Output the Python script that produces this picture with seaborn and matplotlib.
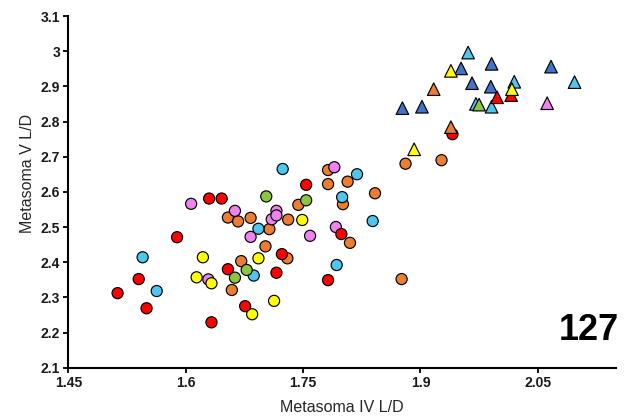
import matplotlib
matplotlib.use("Agg")
import matplotlib.pyplot as plt
import pandas as pd
import seaborn as sns

# Metasoma IV and V length/depth ratios, grouped by colour group and marker shape
red_circle_x = [1.754, 1.630, 1.646, 1.799, 1.589, 1.723, 1.654, 1.716, 1.782, 1.676, 1.633, 1.540, 1.513, 1.550, 1.941]
red_circle_y = [2.620, 2.581, 2.581, 2.480, 2.471, 2.423, 2.380, 2.370, 2.349, 2.275, 2.229, 2.352, 2.312, 2.269, 2.764]

orange_circle_x = [1.782, 1.881, 1.782, 1.807, 1.842, 1.744, 1.801, 1.654, 1.667, 1.683, 1.731, 1.707, 1.810, 1.702, 1.671, 1.730, 1.659, 1.876, 1.927]
orange_circle_y = [2.662, 2.680, 2.622, 2.629, 2.596, 2.563, 2.565, 2.527, 2.516, 2.526, 2.521, 2.494, 2.455, 2.445, 2.403, 2.411, 2.321, 2.352, 2.690]

yellow_circle_x = [1.749, 1.622, 1.693, 1.614, 1.633, 1.713, 1.685]
yellow_circle_y = [2.520, 2.414, 2.411, 2.357, 2.340, 2.290, 2.252]

green_circle_x = [1.703, 1.754, 1.678, 1.663]
green_circle_y = [2.587, 2.576, 2.378, 2.356]

cyan_circle_x = [1.724, 1.819, 1.800, 1.839, 1.693, 1.793, 1.687, 1.545, 1.563]
cyan_circle_y = [2.665, 2.650, 2.585, 2.517, 2.495, 2.392, 2.362, 2.414, 2.318]

pink_circle_x = [1.790, 1.607, 1.663, 1.716, 1.710, 1.716, 1.683, 1.759, 1.792, 1.629]
pink_circle_y = [2.670, 2.566, 2.546, 2.546, 2.522, 2.533, 2.472, 2.475, 2.500, 2.351]

cyan_tri_x = [1.961, 2.020, 2.097, 1.971, 1.991]
cyan_tri_y = [2.996, 2.913, 2.912, 2.850, 2.842]

blue_tri_x = [1.952, 1.991, 2.067, 1.966, 1.990, 1.877, 1.902]
blue_tri_y = [2.951, 2.964, 2.956, 2.909, 2.899, 2.838, 2.842]

green_tri_x = [1.975]
green_tri_y = [2.848]

pink_tri_x = [2.062]
pink_tri_y = [2.852]

orange_tri_x = [1.917, 1.939]
orange_tri_y = [2.892, 2.784]

yellow_tri_x = [1.939, 2.017, 1.892]
yellow_tri_y = [2.944, 2.892, 2.721]

red_tri_x = [1.998, 2.016]
red_tri_y = [2.869, 2.875]

x_ticks = [1.45, 1.6, 1.75, 1.9, 2.05]
x_tick_labels = ["1.45", "1.6", "1.75", "1.9", "2.05"]
y_ticks = [2.1, 2.2, 2.3, 2.4, 2.5, 2.6, 2.7, 2.8, 2.9, 3.0, 3.1]
y_tick_labels = ["2.1", "2.2", "2.3", "2.4", "2.5", "2.6", "2.7", "2.8", "2.9", "3", "3.1"]

palette = {
    "red": "#FF0000",
    "orange": "#ED7D31",
    "yellow": "#FFFF00",
    "green": "#8CC63F",
    "cyan": "#4FC6EE",
    "pink": "#EE82EE",
    "blue": "#4472C4",
}

# drawing order: circles first, then triangles
groups = [
    ("orange", "circle", orange_circle_x, orange_circle_y),
    ("cyan", "circle", cyan_circle_x, cyan_circle_y),
    ("green", "circle", green_circle_x, green_circle_y),
    ("pink", "circle", pink_circle_x, pink_circle_y),
    ("yellow", "circle", yellow_circle_x, yellow_circle_y),
    ("red", "circle", red_circle_x, red_circle_y),
    ("cyan", "triangle", cyan_tri_x, cyan_tri_y),
    ("blue", "triangle", blue_tri_x, blue_tri_y),
    ("green", "triangle", green_tri_x, green_tri_y),
    ("pink", "triangle", pink_tri_x, pink_tri_y),
    ("red", "triangle", red_tri_x, red_tri_y),
    ("orange", "triangle", orange_tri_x, orange_tri_y),
    ("yellow", "triangle", yellow_tri_x, yellow_tri_y),
]

rows = []
for colour, shape, xs, ys in groups:
    for xv, yv in zip(xs, ys):
        rows.append({"iv": xv, "v": yv, "group": colour, "shape": shape})
df = pd.DataFrame(rows)

sns.set_theme(style="white")
plt.rcParams["font.family"] = ["Liberation Sans", "DejaVu Sans"]

fig = plt.figure(figsize=(6.42, 4.17), dpi=100)
ax = fig.add_axes([68.3 / 642, 1 - 367.7 / 417, (616 - 68.3) / 642, (367.7 - 16) / 417])

sns.scatterplot(
    data=df, x="iv", y="v", hue="group", style="shape", size="shape",
    palette=palette, markers={"circle": "o", "triangle": "^"},
    sizes={"circle": 64, "triangle": 82},
    edgecolor="black", linewidth=0.85, legend=False, ax=ax,
)

ax.set_xlim(1.45, 2.15)
ax.set_ylim(2.1, 3.1)
ax.set_xticks(x_ticks)
ax.set_xticklabels(x_tick_labels)
ax.set_yticks(y_ticks)
ax.set_yticklabels(y_tick_labels)

for side in ("top", "right"):
    ax.spines[side].set_visible(False)
for side in ("left", "bottom"):
    ax.spines[side].set_color("black")
    ax.spines[side].set_linewidth(1.5)

ax.tick_params(axis="both", which="major", direction="out", length=3.5, width=1.3,
               color="black", labelsize=10, labelcolor="#1a1a1a", pad=2.5,
               left=True, bottom=True)
for lab in ax.get_xticklabels() + ax.get_yticklabels():
    lab.set_fontweight("bold")

ax.set_xlabel("Metasoma IV L/D", fontsize=11.5, color="#262626", va="center")
ax.set_ylabel("Metasoma V L/D", fontsize=11.5, color="#262626", va="center")
ax.xaxis.set_label_coords(0.5, -0.112)
ax.yaxis.set_label_coords(-0.074, 0.551)

fig.text(619 / 642, 1 - 330 / 417, "127", fontsize=26, fontweight="bold",
         ha="right", va="center", color="black")

fig.savefig("out.png", dpi=100)
